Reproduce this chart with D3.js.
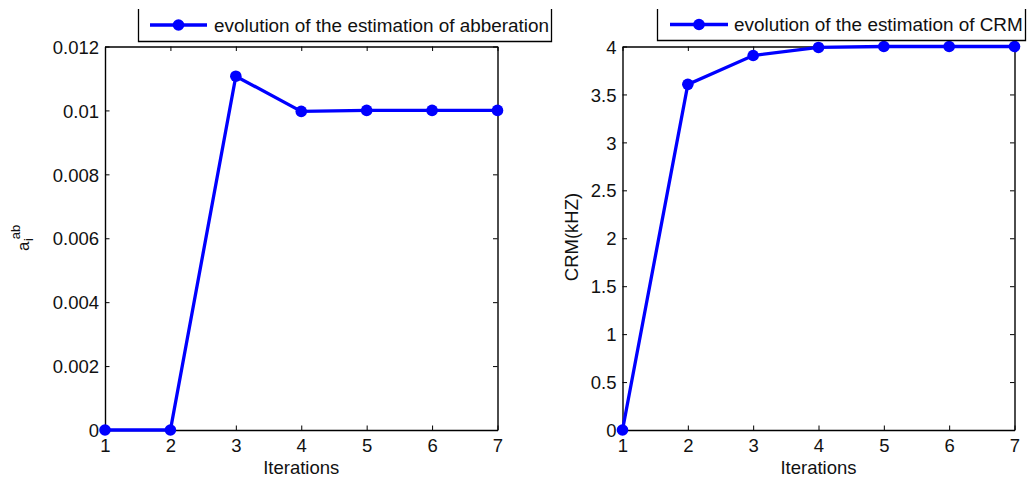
<!DOCTYPE html>
<html><head><meta charset="utf-8">
<script src="https://cdn.jsdelivr.net/npm/d3@7"></script>
<style>
body{margin:0;background:#fff;}
svg{display:block;font-family:"Liberation Sans",Arial,sans-serif;}
</style></head><body>
<svg id="c" width="1030" height="485"></svg>
<script>
const iterations = [1,2,3,4,5,6,7];
const aberration = [0, 0, 0.01107, 0.00997, 0.0100, 0.0100, 0.0100];
const crm = [0, 3.605, 3.906, 3.99, 4.0, 4.0, 4.0];
const leftYTicks = [0, 0.002, 0.004, 0.006, 0.008, 0.01, 0.012];
const leftYTickLabels = ["0","0.002","0.004","0.006","0.008","0.01","0.012"];
const rightYTicks = [0,0.5,1,1.5,2,2.5,3,3.5,4];
const rightYTickLabels = ["0","0.5","1","1.5","2","2.5","3","3.5","4"];
const xTickLabels = ["1","2","3","4","5","6","7"];
const legendLeft = "evolution of the estimation of abberation";
const legendRight = "evolution of the estimation of CRM";

const svg = d3.select("#c");
const BLUE = "#0000ff";

function panel(cfg){
  const x = d3.scaleLinear().domain([1,7]).range([cfg.x0, cfg.x1]);
  const y = d3.scaleLinear().domain(cfg.ydom).range([cfg.y1, cfg.y0]);
  const g = svg.append("g");
  const tl = 4.5;
  const xb = d3.axisBottom(x).tickValues(iterations).tickFormat((d,i)=>xTickLabels[i]).tickSizeInner(-tl).tickSizeOuter(0).tickPadding(8);
  const gb = g.append("g").attr("transform",`translate(0,${cfg.y1})`).call(xb);
  const xt = d3.axisTop(x).tickValues(iterations).tickFormat("").tickSizeInner(-tl).tickSizeOuter(0);
  const gt = g.append("g").attr("transform",`translate(0,${cfg.y0})`).call(xt);
  const yl = d3.axisLeft(y).tickValues(cfg.yticks).tickFormat((d,i)=>cfg.ylabels[i]).tickSizeInner(-tl).tickSizeOuter(0).tickPadding(6);
  const gl = g.append("g").attr("transform",`translate(${cfg.x0},0)`).call(yl);
  const yr = d3.axisRight(y).tickValues(cfg.yticks).tickFormat("").tickSizeInner(-tl).tickSizeOuter(0);
  const gr = g.append("g").attr("transform",`translate(${cfg.x1},0)`).call(yr);
  [gb,gt,gl,gr].forEach(a=>{
    a.select(".domain").attr("stroke","#000").attr("stroke-width",1.4);
    a.selectAll(".tick line").attr("stroke","#000").attr("stroke-width",1);
    a.selectAll(".tick text").attr("fill","#111").attr("font-size",18.5).attr("font-family","Liberation Sans, Arial, sans-serif");
  });
  gb.selectAll(".tick text").attr("dy","0.75em");
  gl.selectAll(".tick text").attr("dy","0.36em");
  g.append("text").attr("x",(cfg.x0+cfg.x1)/2).attr("y",474).attr("text-anchor","middle")
    .attr("font-size",18.5).attr("fill","#111").text("Iterations");
  const pts = iterations.map((d,i)=>[x(d), y(cfg.values[i])]);
  g.append("path").attr("d",d3.line()(pts)).attr("fill","none").attr("stroke",BLUE).attr("stroke-width",3.3).attr("stroke-linejoin","miter");
  g.selectAll("circle.m").data(pts).enter().append("circle").attr("class","m")
    .attr("cx",d=>d[0]).attr("cy",d=>d[1]).attr("r",5.8).attr("fill",BLUE);
  const L = cfg.legend;
  g.append("path").attr("d",`M${L.l},9 V${L.b} H${L.r} V9`).attr("fill","#fff").attr("stroke","#000").attr("stroke-width",1.3);
  g.append("line").attr("x1",L.l1).attr("x2",L.l2).attr("y1",L.cy).attr("y2",L.cy).attr("stroke",BLUE).attr("stroke-width",3.3);
  g.append("circle").attr("cx",(L.l1+L.l2)/2).attr("cy",L.cy).attr("r",5.8).attr("fill",BLUE);
  g.append("text").attr("x",L.tx).attr("y",L.cy).attr("dy","0.36em").attr("font-size",18.9).attr("fill","#111").text(L.text);
  return g;
}

panel({x0:105,x1:497.5,y0:46.5,y1:430,ydom:[0,0.012],yticks:leftYTicks,ylabels:leftYTickLabels,values:aberration,
  legend:{l:138.5,r:551.5,b:41.5,l1:150,l2:207,cy:25,tx:214,text:legendLeft}});
panel({x0:622.5,x1:1014.5,y0:46.5,y1:430,ydom:[0,4],yticks:rightYTicks,ylabels:rightYTickLabels,values:crm,
  legend:{l:657.5,r:1025.5,b:40.5,l1:670,l2:728,cy:24.5,tx:734,text:legendRight}});

const ya = svg.append("g").attr("transform","translate(29,251) rotate(-90)");
const t = ya.append("text").attr("font-size",17).attr("fill","#111");
t.append("tspan").text("a");
t.append("tspan").attr("font-size",13).attr("dy",4).attr("dx",0.5).text("i");
t.append("tspan").attr("font-size",13).attr("dy",-13).attr("dx",-1).text("ab");
svg.append("text").attr("transform","translate(578,237) rotate(-90)").attr("text-anchor","middle")
  .attr("font-size",18.5).attr("fill","#111").text("CRM(kHZ)");
</script>
</body></html>
